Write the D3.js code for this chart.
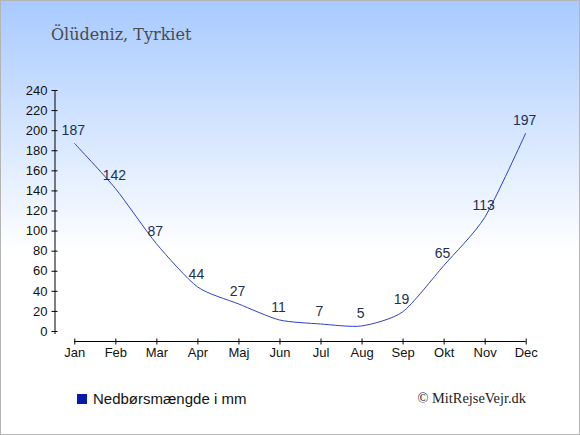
<!DOCTYPE html>
<html>
<head>
	<meta charset="utf-8">
	<title>Ölüdeniz, Tyrkiet</title>
	<script src="https://d3js.org/d3.v7.min.js"></script>
	<style>
		body { margin: 0; }
	</style>
</head>
<body>
	<script>
		var width = 580, height = 435;

		// monthly precipitation (mm)
		var months = ["Jan", "Feb", "Mar", "Apr", "Maj", "Jun", "Jul", "Aug", "Sep", "Okt", "Nov", "Dec"];
		var rain = [187, 142, 87, 44, 27, 11, 7, 5, 19, 65, 113, 197];
		var yTicks = [0, 20, 40, 60, 80, 100, 120, 140, 160, 180, 200, 220, 240];

		var svg = d3.select("body").append("svg").attr("width", width).attr("height", height);

		var grad = svg.append("defs").append("linearGradient").attr("id", "bg")
			.attr("x1", 0).attr("y1", 0).attr("x2", 0).attr("y2", 1);
		grad.append("stop").attr("offset", "0%").attr("stop-color", "#a8caff");
		grad.append("stop").attr("offset", "58%").attr("stop-color", "#ffffff");
		grad.append("stop").attr("offset", "100%").attr("stop-color", "#ffffff");

		svg.append("rect").attr("x", 0.5).attr("y", 0.5).attr("width", width - 1).attr("height", height - 1)
			.attr("fill", "url(#bg)").attr("stroke", "#b4b4b4");

		svg.append("text").attr("x", 51).attr("y", 40)
			.attr("font-family", "DejaVu Serif").attr("font-size", 16).attr("fill", "#4a4a4a")
			.text("Ölüdeniz, Tyrkiet");

		var x = d3.scalePoint().domain(months).range([74.3, 525.7]);
		var y = d3.scaleLinear().domain([0, 240]).range([331, 90]);

		// y axis
		var yAxis = svg.append("g").attr("transform", "translate(54.5,0)")
			.call(d3.axisLeft(y).tickValues(yTicks).tickSize(3).tickPadding(4));
		yAxis.selectAll(".tick line").attr("x2", 3).attr("x1", -3);
		yAxis.select(".domain").attr("d", "M0.5," + y(240) + "V" + (y(0) + 3));

		// x axis
		var xAxis = svg.append("g").attr("transform", "translate(0,341.5)")
			.call(d3.axisBottom(x).tickSize(3).tickPadding(3.5));
		xAxis.selectAll(".tick line").attr("y1", -3).attr("y2", 3);
		xAxis.select(".domain").attr("d", "M" + x("Jan") + ",0H" + x("Dec"));

		svg.selectAll(".tick text").attr("font-family", "Liberation Sans, Arial, sans-serif")
			.attr("font-size", 13).attr("fill", "#111");
		svg.selectAll(".domain, .tick line").attr("stroke", "#000");

		var line = d3.line()
			.x(function(d, i) { return x(months[i]); })
			.y(function(d) { return y(d); })
			.curve(d3.curveCardinal.tension(0.3));

		svg.append("path").datum(rain).attr("d", line)
			.attr("fill", "none").attr("stroke", "#2f3fc8").attr("stroke-width", 1);

		svg.append("g").selectAll("text").data(rain).enter().append("text")
			.attr("x", function(d, i) { return x(months[i]) - 1; })
			.attr("y", function(d) { return y(d) - 8; })
			.attr("text-anchor", "middle")
			.attr("font-family", "Liberation Sans, Arial, sans-serif").attr("font-size", 14)
			.attr("fill", "#1c2f55")
			.text(function(d) { return d; });

		// legend
		svg.append("rect").attr("x", 77).attr("y", 394).attr("width", 10).attr("height", 10).attr("fill", "#0a1aa8");
		svg.append("text").attr("x", 93).attr("y", 404)
			.attr("font-family", "Liberation Sans, Arial, sans-serif").attr("font-size", 15).attr("fill", "#111")
			.text("Nedbørsmængde i mm");

		svg.append("text").attr("x", 526).attr("y", 403).attr("text-anchor", "end")
			.attr("font-family", "Liberation Serif, Times New Roman, serif").attr("font-size", 14.4).attr("fill", "#222")
			.text("© MitRejseVejr.dk");
	</script>
</body>
</html>
